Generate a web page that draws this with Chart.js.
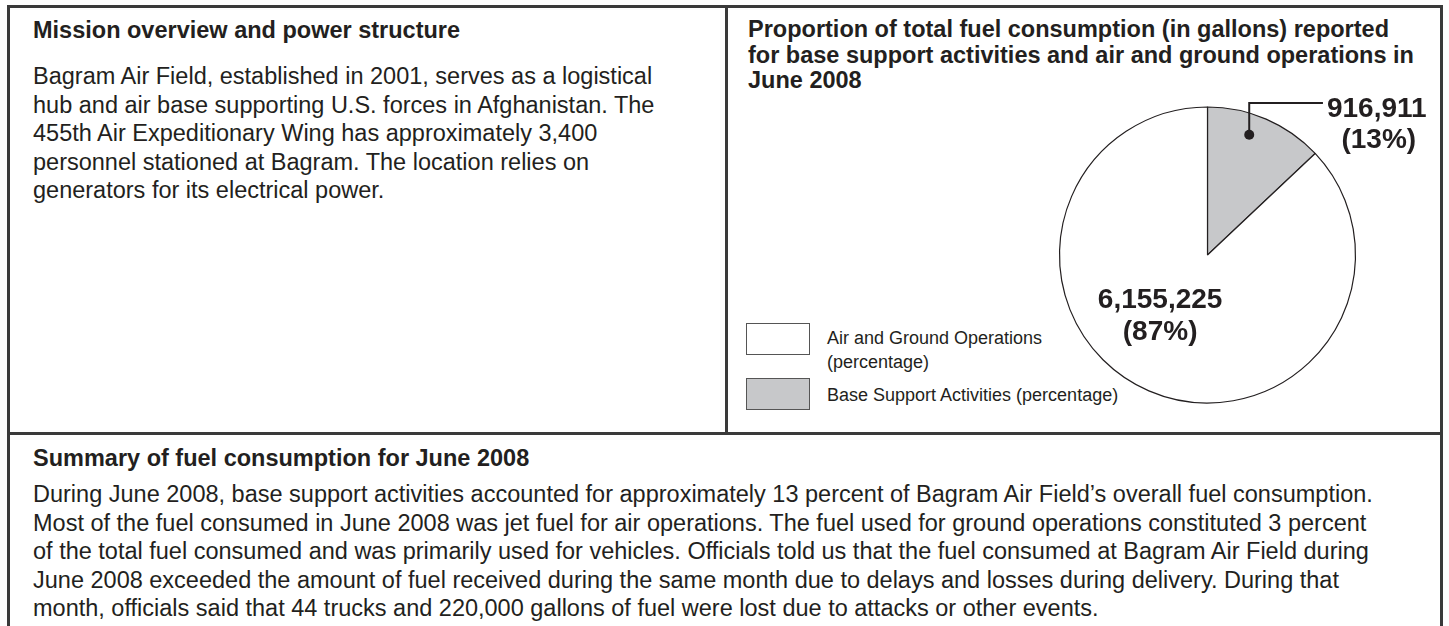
<!DOCTYPE html>
<html>
<head>
<meta charset="utf-8">
<script src="https://cdn.jsdelivr.net/npm/chart.js@4.4.0/dist/chart.umd.min.js"></script>
<style>
  html, body { margin: 0; padding: 0; background: #fff; }
  body { width: 1449px; height: 626px; overflow: hidden; position: relative;
         font-family: "Liberation Sans", Arial, Helvetica, sans-serif; color: #231f20; }
  .frame { position: absolute; left: 7px; top: 5px; width: 1430px; height: 700px; border: 3px solid #3a3a3a; }
  .vline { position: absolute; left: 725px; top: 5px; width: 3px; height: 430px; background: #3a3a3a; }
  .hline { position: absolute; left: 7px; top: 432px; width: 1436px; height: 3px; background: #3a3a3a; }
  .txt { position: absolute; font-size: 23.5px; line-height: 28.5px; white-space: nowrap; }
  .bold { font-weight: bold; }
  .swatch { position: absolute; left: 746px; width: 62px; height: 30px; border: 1.5px solid #555; }
  .ltext { position: absolute; left: 827px; font-size: 18px; line-height: 24px; white-space: nowrap; }
  #pie { position: absolute; left: 728px; top: 8px; }
</style>
</head>
<body>
<div class="frame"></div>
<div class="vline"></div>
<div class="hline"></div>

<div class="txt bold" style="left:33px; top:16px;">Mission overview and power structure</div>
<div class="txt" style="left:33px; top:62px;">Bagram Air Field, established in 2001, serves as a logistical<br>hub and air base supporting U.S. forces in Afghanistan. The<br>455th Air Expeditionary Wing has approximately 3,400<br>personnel stationed at Bagram. The location relies on<br>generators for its electrical power.</div>

<div class="txt bold" style="left:748px; top:17px; line-height:25.5px;">Proportion of total fuel consumption (in gallons) reported<br>for base support activities and air and ground operations in<br>June 2008</div>

<div class="txt bold" style="left:33px; top:444px;">Summary of fuel consumption for June 2008</div>
<div class="txt" style="left:33px; top:480px;">During June 2008, base support activities accounted for approximately 13 percent of Bagram Air Field’s overall fuel consumption.<br>Most of the fuel consumed in June 2008 was jet fuel for air operations. The fuel used for ground operations constituted 3 percent<br>of the total fuel consumed and was primarily used for vehicles. Officials told us that the fuel consumed at Bagram Air Field during<br>June 2008 exceeded the amount of fuel received during the same month due to delays and losses during delivery. During that<br>month, officials said that 44 trucks and 220,000 gallons of fuel were lost due to attacks or other events.</div>

<div id="legend"></div>

<canvas id="pie" width="713" height="425"></canvas>

<script>
// data
const categories = ['Base Support Activities', 'Air and Ground Operations'];
const gallons = [916911, 6155225];
const sliceColors = ['#c7c8ca', '#ffffff'];

// legend order in the picture: white slice first, then grey
const legendLabels = ['Air and Ground Operations<br>(percentage)', 'Base Support Activities (percentage)'];
const legendColors = ['#ffffff', '#c7c8ca'];
const legendTops = [323, 378];

let legendHtml = '';
legendLabels.forEach((label, i) => {
  legendHtml += `<div class="swatch" style="top:${legendTops[i]}px; background:${legendColors[i]}"></div>`;
  const textTop = i === 0 ? legendTops[i] + 3 : legendTops[i] + 5;
  legendHtml += `<div class="ltext" style="top:${textTop}px">${label}</div>`;
});
document.getElementById('legend').innerHTML = legendHtml;

const total = gallons.reduce((a, b) => a + b, 0);
const fmt = v => v.toLocaleString('en-US');
const pct = v => '(' + Math.round(v / total * 100) + '%)';

// draws the value labels and the callout for the small slice
const sliceLabels = {
  id: 'sliceLabels',
  afterDatasetsDraw(chart) {
    const ctx = chart.ctx;
    const arcs = chart.getDatasetMeta(0).data;
    ctx.save();
    ctx.fillStyle = '#231f20';
    ctx.strokeStyle = '#231f20';
    ctx.font = 'bold 28px "Liberation Sans", Arial, sans-serif';
    ctx.textBaseline = 'alphabetic';

    // small slice with leader line
    const a = arcs[0];
    const r = a.outerRadius;
    const ang = a.startAngle + (a.endAngle - a.startAngle) * 0.41;
    const dx = a.x + Math.cos(ang) * r * 0.86;
    const dy = a.y + Math.sin(ang) * r * 0.86;
    const topY = a.y - r - 4;
    const endX = a.x + r * 0.78;
    ctx.lineWidth = 2;
    ctx.beginPath();
    ctx.moveTo(dx, dy);
    ctx.lineTo(dx, topY);
    ctx.lineTo(endX, topY);
    ctx.stroke();
    ctx.beginPath();
    ctx.arc(dx, dy, 5, 0, Math.PI * 2);
    ctx.fill();

    const t1 = fmt(gallons[0]);
    const w1 = ctx.measureText(t1).width;
    ctx.textAlign = 'left';
    ctx.fillText(t1, endX + 4, topY + 14);
    ctx.textAlign = 'center';
    ctx.fillText(pct(gallons[0]), endX + 4 + w1 / 2 + 2, topY + 45);

    // big slice, label inside
    const b = arcs[1];
    ctx.textAlign = 'center';
    ctx.fillText(fmt(gallons[1]), b.x - r * 0.32, b.y + 53);
    ctx.fillText(pct(gallons[1]), b.x - r * 0.32, b.y + 85);
    ctx.restore();
  }
};

new Chart(document.getElementById('pie').getContext('2d'), {
  type: 'pie',
  data: {
    labels: categories,
    datasets: [{
      data: gallons,
      backgroundColor: sliceColors,
      borderColor: '#231f20',
      borderWidth: 1.2
    }]
  },
  options: {
    responsive: false,
    animation: false,
    events: [],
    radius: 148,
    layout: { padding: { left: 246, top: 69, right: 0, bottom: 0 } },
    plugins: {
      legend: { display: false },
      tooltip: { enabled: false }
    }
  },
  plugins: [sliceLabels]
});
</script>
</body>
</html>
